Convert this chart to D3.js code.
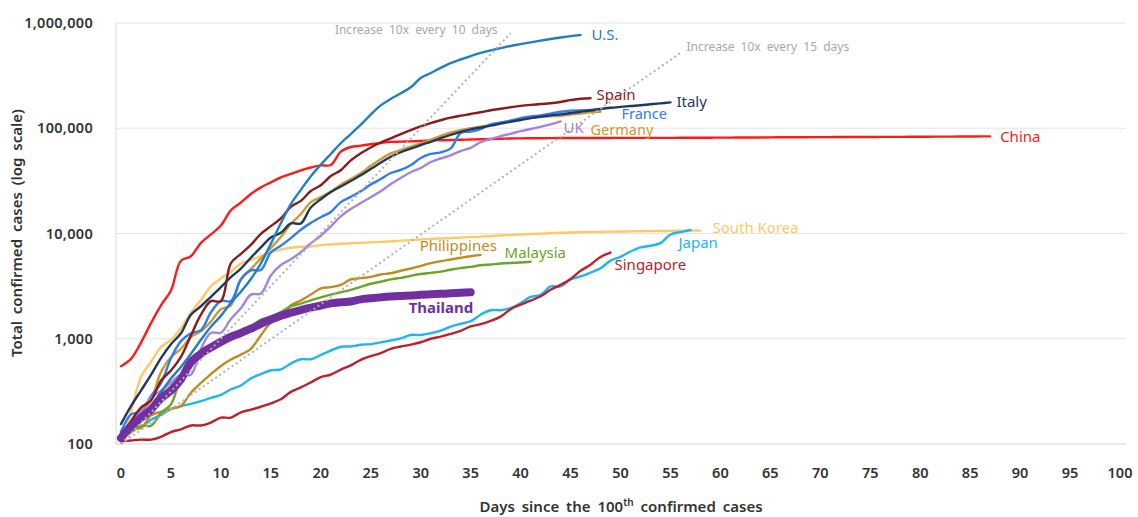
<!DOCTYPE html>
<html>
<head>
<meta charset="utf-8">
<script src="https://cdn.jsdelivr.net/npm/d3@7"></script>
<style>
  body { margin: 0; background: #fff; }
  text { font-family: "Noto Sans", sans-serif; }
</style>
</head>
<body>
<div id="chart"></div>
<script>
// total confirmed cases, one value per day since day 0 (100th case)
const china = [548, 643, 920, 1406, 2075, 2877, 5509, 6087, 8141, 9802,
  11891, 16630, 19716, 23707, 27440, 30587, 34110, 36814, 39829, 42354,
  44386, 44759, 59895, 66358, 68413, 70513, 72434, 74211, 74619, 75077,
  75550, 77001, 77022, 77241, 77754, 78166, 78600, 78928, 79356, 79932,
  80136, 80261, 80386, 80537, 80690, 80770, 80823, 80860, 80887, 80921,
  80932, 80945, 80977, 81003, 81033, 81058, 81102, 81156, 81250, 81305,
  81435, 81498, 81591, 81661, 81782, 81897, 81999, 82122, 82198, 82279,
  82361, 82432, 82511, 82543, 82602, 82665, 82718, 82809, 82883, 82941,
  83014, 83134, 83213, 83306, 83356, 83403, 83760, 83787];
const us = [110, 140, 180, 230, 310, 420, 540, 720, 980, 1300,
  1650, 2200, 2800, 3700, 5200, 8000, 12500, 19000, 26000, 35000,
  45000, 57000, 72000, 88000, 108000, 135000, 165000, 190000, 215000, 245000,
  300000, 335000, 375000, 415000, 450000, 485000, 520000, 550000, 578000, 605000,
  630000, 655000, 680000, 705000, 728000, 750000, 770000];
const spain = [120, 165, 222, 259, 400, 500, 673, 1073, 1695, 2277,
  2277, 5232, 6391, 7798, 9942, 11748, 13910, 17963, 20410, 25374,
  28768, 35136, 39885, 49515, 57786, 65719, 73235, 80110, 87956, 95923,
  104118, 112065, 119199, 126168, 131646, 136675, 141942, 148220, 153222, 158273,
  163027, 166831, 170099, 172541, 177644, 184948, 190839, 193000];
const italy = [155, 229, 322, 453, 655, 888, 1128, 1694, 2036, 2502,
  3089, 3858, 4636, 5883, 7375, 9172, 10149, 12462, 12462, 17660,
  21157, 24747, 27980, 31506, 35713, 41035, 47021, 53578, 59138, 63927,
  69176, 74386, 80589, 86498, 92472, 97689, 101739, 105792, 110574, 115242,
  119827, 124632, 128948, 132547, 135586, 139422, 143626, 147577, 152271, 156363,
  159516, 162488, 165155, 168941, 172434, 175925];
const france = [130, 191, 204, 285, 377, 653, 949, 1126, 1209, 1784,
  2281, 2281, 3661, 4469, 4499, 6633, 7652, 9043, 10871, 12612,
  14282, 16018, 19856, 22304, 25233, 29155, 32964, 37575, 40174, 44550,
  52128, 56989, 59105, 64338, 89953, 92839, 98010, 109069, 112950, 117749,
  124869, 129654, 132591, 137877, 143303, 147091, 147969, 149232, 152000];
const germany = [130, 159, 196, 262, 482, 670, 799, 1040, 1176, 1457,
  1908, 2078, 3675, 4585, 5795, 7272, 9257, 12327, 15320, 19848,
  22213, 24873, 29056, 32986, 37323, 43938, 50871, 57695, 62095, 66885,
  71808, 77872, 84794, 91159, 96092, 100123, 103374, 107663, 113296, 118181,
  122171, 124908, 127854, 130072, 131359, 134753, 137698, 141397, 143342];
const uk = [115, 163, 206, 273, 321, 382, 456, 456, 798, 1140,
  1140, 1543, 1950, 2626, 2689, 3983, 5018, 5683, 6650, 8077,
  9529, 11658, 14543, 17089, 19522, 22141, 25150, 29474, 33718, 38168,
  41903, 47806, 51608, 55242, 60733, 65077, 73758, 78991, 84279, 88621,
  93873, 98476, 103093, 108692, 116000];
const southKorea = [104, 204, 433, 602, 833, 977, 1261, 1766, 2337, 3150,
  3736, 4335, 5186, 5621, 6088, 6593, 7041, 7314, 7478, 7513,
  7755, 7869, 7979, 8086, 8162, 8236, 8320, 8413, 8565, 8652,
  8799, 8897, 8961, 9037, 9137, 9241, 9332, 9478, 9583, 9661,
  9786, 9887, 9976, 10062, 10156, 10237, 10284, 10331, 10384, 10423,
  10450, 10480, 10512, 10537, 10564, 10591, 10613, 10635, 10653];
const japan = [132, 144, 144, 170, 189, 214, 228, 241, 256, 274,
  293, 331, 360, 420, 461, 502, 511, 581, 639, 639,
  701, 773, 839, 845, 878, 889, 924, 963, 1007, 1086,
  1086, 1128, 1193, 1307, 1387, 1468, 1693, 1866, 1866, 1953,
  2178, 2495, 2617, 3139, 3139, 3654, 3906, 4257, 4667, 5530,
  6005, 6748, 7370, 7645, 8100, 9787, 10296, 10797];
const singapore = [106, 108, 110, 110, 117, 130, 138, 150, 150, 160,
  178, 178, 200, 212, 226, 243, 266, 313, 345, 385,
  432, 455, 509, 558, 631, 683, 732, 802, 844, 879,
  926, 1000, 1049, 1114, 1189, 1309, 1375, 1481, 1623, 1910,
  2108, 2299, 2532, 2918, 3252, 3699, 4427, 5050, 5992, 6588];
const philippines = [111, 140, 142, 187, 202, 217, 230, 307, 380, 462,
  552, 636, 707, 803, 1075, 1418, 1546, 2084, 2311, 2633,
  3018, 3094, 3246, 3660, 3764, 3870, 4076, 4195, 4428, 4648,
  4932, 5223, 5453, 5660, 5878, 6087, 6259];
const malaysia = [117, 129, 149, 149, 197, 238, 428, 566, 673, 790,
  900, 1030, 1183, 1306, 1518, 1624, 1796, 2031, 2161, 2320,
  2470, 2626, 2766, 2908, 3116, 3333, 3483, 3662, 3793, 3963,
  4119, 4228, 4346, 4530, 4683, 4817, 4987, 5072, 5182, 5251,
  5305, 5389];
const thailand = [114, 147, 177, 212, 272, 322, 411, 599, 721, 827,
  934, 1045, 1136, 1245, 1388, 1524, 1651, 1771, 1875, 1978,
  2067, 2169, 2220, 2258, 2369, 2423, 2473, 2518, 2551, 2579,
  2613, 2643, 2672, 2700, 2733, 2765];

// guide lines: start and end (day, cases)
const guide10 = [[0, 100], [39, 800000]];
const guide15 = [[0, 100], [56, 520000]];

const xTicks = d3.range(0, 101, 5);
const yTicks = [100, 1000, 10000, 100000, 1000000];

// series list, drawn in this order (Thailand last, on top)
const series = [
  { name: "China", values: china, color: "#ff1a1a" },
  { name: "South Korea", values: southKorea, color: "#ffc965" },
  { name: "Japan", values: japan, color: "#1db6f0" },
  { name: "Singapore", values: singapore, color: "#c0202a" },
  { name: "Philippines", values: philippines, color: "#c28b1e" },
  { name: "Malaysia", values: malaysia, color: "#6ba52a" },
  { name: "Germany", values: germany, color: "#cf9a2c" },
  { name: "France", values: france, color: "#2e7cf6" },
  { name: "UK", values: uk, color: "#a584e0" },
  { name: "Spain", values: spain, color: "#8b1a1a" },
  { name: "Italy", values: italy, color: "#1f3864" },
  { name: "U.S.", values: us, color: "#1f80c4" },
  { name: "Thailand", values: thailand, color: "#7030a0" }
];

// label offsets from each line's last point
const labelOffset = {
  "U.S.": [11, 5], "Spain": [6, 2], "Italy": [6, 5], "France": [21, 10],
  "UK": [3, 12], "Germany": [-10, 23], "China": [10, 6], "South Korea": [12, 2],
  "Japan": [-12, 18], "Singapore": [4, 17], "Philippines": [-61, -4],
  "Malaysia": [-26, -4], "Thailand": [-62, 21]
};

const width = 1138, height = 517;

const svg = d3.select("#chart")
  .append("svg")
  .attr("width", width)
  .attr("height", height);

const x = d3.scaleLinear().domain([0, 100]).range([121, 1120]);
const y = d3.scaleLog().domain([100, 1000000]).range([444, 23]);

// gridlines
svg.append("g")
  .selectAll("line")
  .data(yTicks)
  .join("line")
    .attr("x1", 116)
    .attr("x2", 1126)
    .attr("y1", d => y(d))
    .attr("y2", d => y(d))
    .attr("stroke", d => d === 100 ? "#d6d6d6" : "#e4e4e4")
    .attr("stroke-width", 1.2);
svg.append("line")
  .attr("x1", 116).attr("x2", 116)
  .attr("y1", y(1000000)).attr("y2", y(100))
  .attr("stroke", "#e0e0e0")
  .attr("stroke-width", 1.2);

// y axis labels
svg.append("g")
  .selectAll("text")
  .data(yTicks)
  .join("text")
    .attr("x", 93)
    .attr("y", d => y(d))
    .attr("dy", "0.35em")
    .attr("text-anchor", "end")
    .attr("font-size", "14.5px")
    .attr("font-weight", 600)
    .attr("letter-spacing", "0.3px")
    .attr("fill", "#333")
    .text(d => d3.format(",")(d));

// x axis labels
svg.append("g")
  .selectAll("text")
  .data(xTicks)
  .join("text")
    .attr("x", d => x(d))
    .attr("y", 478)
    .attr("text-anchor", "middle")
    .attr("font-size", "14.5px")
    .attr("font-weight", 600)
    .attr("fill", "#333")
    .text(d => d);

// axis titles
const xTitle = svg.append("text")
  .attr("x", 621)
  .attr("y", 512)
  .attr("text-anchor", "middle")
  .attr("font-size", "15px")
  .attr("font-weight", 600)
  .attr("word-spacing", "3px")
  .attr("fill", "#333");
xTitle.append("tspan").text("Days since the 100");
xTitle.append("tspan").attr("dy", -6).attr("font-size", "10px").text("th");
xTitle.append("tspan").attr("dy", 6).text(" confirmed cases");

svg.append("text")
  .attr("transform", "translate(22,233) rotate(-90)")
  .attr("text-anchor", "middle")
  .attr("font-size", "15px")
  .attr("font-weight", 600)
  .attr("word-spacing", "3px")
  .attr("fill", "#333")
  .text("Total confirmed cases (log scale)");

// country lines
const line = d3.line()
  .x((d, i) => x(i))
  .y(d => y(d))
  .curve(d3.curveCatmullRom.alpha(0.5));

svg.append("g")
  .selectAll("path")
  .data(series)
  .join("path")
    .attr("d", d => line(d.values))
    .attr("fill", "none")
    .attr("stroke", d => d.color)
    .attr("stroke-width", d => d.name === "Thailand" ? 8 : 2.4)
    .attr("stroke-linecap", "round")
    .attr("stroke-linejoin", "round");

// guide lines
const guideLine = d3.line().x(d => x(d[0])).y(d => y(d[1]));
svg.append("g")
  .selectAll("path")
  .data([guide10, guide15])
  .join("path")
    .attr("d", guideLine)
    .attr("stroke", "#b3b3b3")
    .attr("stroke-width", 2)
    .attr("stroke-dasharray", "2,3")
    .attr("fill", "none");

svg.append("text")
  .attr("x", x(guide10[1][0]) - 13)
  .attr("y", y(guide10[1][1]) + 1)
  .attr("text-anchor", "end")
  .attr("font-size", "12px")
  .attr("word-spacing", "3px")
  .attr("fill", "#a8a8a8")
  .text("Increase 10x every 10 days");

svg.append("text")
  .attr("x", x(guide15[1][0]) + 6)
  .attr("y", y(guide15[1][1]) - 2)
  .attr("font-size", "12px")
  .attr("word-spacing", "3px")
  .attr("fill", "#a8a8a8")
  .text("Increase 10x every 15 days");

// country labels
svg.append("g")
  .selectAll("text")
  .data(series)
  .join("text")
    .attr("x", d => x(d.values.length - 1) + labelOffset[d.name][0])
    .attr("y", d => y(d.values[d.values.length - 1]) + labelOffset[d.name][1])
    .attr("font-size", d => (d.name === "France" || d.name === "Germany") ? "14.5px" : "15px")
    .attr("font-weight", d => d.name === "Thailand" ? 700 : 400)
    .attr("fill", d => d.color)
    .text(d => d.name);
</script>
</body>
</html>
